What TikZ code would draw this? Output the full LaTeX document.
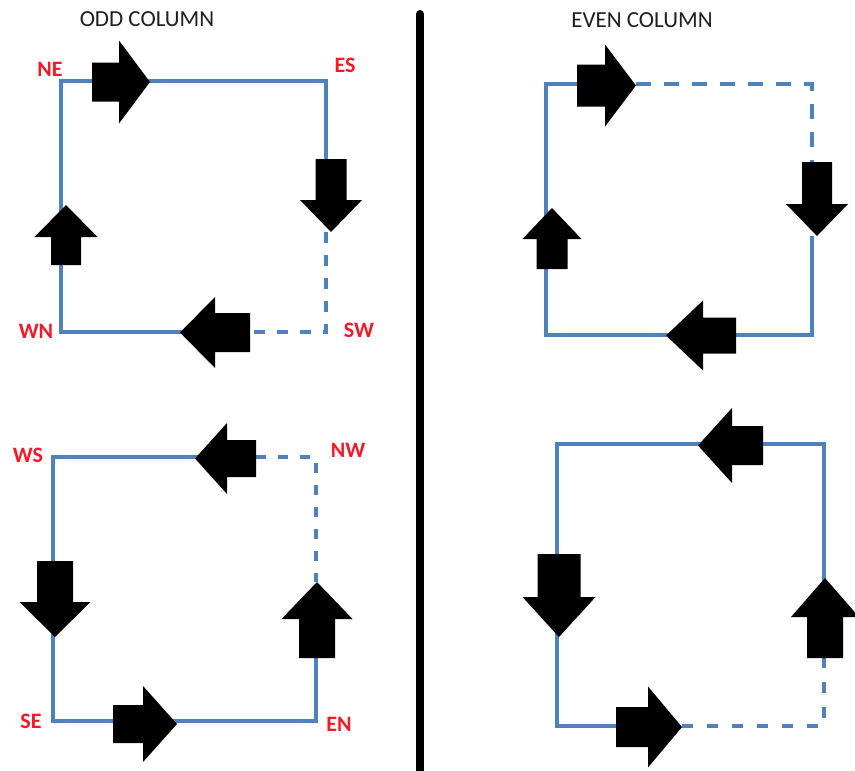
\documentclass[tikz,border=0pt]{standalone}
\usepackage{fontspec}
\setmainfont{Carlito}
\definecolor{edgeblue}{RGB}{79,129,189}
\definecolor{lblred}{RGB}{245,25,40}
\definecolor{titlegray}{RGB}{30,30,30}
\newcommand\harr[6]{\fill[blockarrow] (#1,#2) -- (#3,{#2-#4}) -- (#3,{#2-#6}) -- (#5,{#2-#6}) -- (#5,{#2+#6}) -- (#3,{#2+#6}) -- (#3,{#2+#4}) -- cycle;}
\newcommand\varr[6]{\fill[blockarrow] (#1,#2) -- ({#1-#4},#3) -- ({#1-#6},#3) -- ({#1-#6},#5) -- ({#1+#6},#5) -- ({#1+#6},#3) -- ({#1+#4},#3) -- cycle;}
\tikzset{
  blockarrow/.style={fill=black},
  edge/.style={draw=edgeblue, line join=miter, line cap=butt},
  lbl/.style={text=lblred, font=\fontsize{22}{22}\selectfont\bfseries, inner sep=0pt},
  ttl/.style={text=titlegray, font=\fontsize{23}{23}\selectfont, inner sep=0pt},
}
\begin{document}
\begin{tikzpicture}[x=1pt,y=-1pt]
\useasboundingbox (0,0) rectangle (855,771);
% divider
\coordinate (divtop) at (420,14);
\coordinate (divbot) at (420,780);
\draw[black, line width=8pt, line cap=round] (divtop) -- (divbot);
% titles
\node[ttl] (oddt) at (147,19) {ODD COLUMN};
\node[ttl] (event) at (642,20) {EVEN COLUMN};

% ---------- top-left square ----------
\coordinate (tlNE) at (61,81);
\coordinate (tlES) at (326,81);
\coordinate (tlSW) at (326,332);
\coordinate (tlWN) at (61,332);
\coordinate (tlA) at (326,159);
\coordinate (tlB) at (326,232);
\coordinate (tlC) at (250,332);
\coordinate (tlD) at (200,332);
\draw[edge, line width=3.6pt] (tlA) -- (tlES) -- (tlNE) -- (tlWN) -- (tlD);
\draw[edge, line width=3.6pt, dash pattern=on 11pt off 12pt] (tlB) -- (tlSW) -- (tlC);
\harr{150}{82}{119}{41.5}{92}{19.5}
\varr{331}{232}{200}{31}{159}{15.5}
\varr{66}{205}{237}{31.5}{265}{15}
\harr{180}{332.5}{215}{35.5}{250}{19.5}
\node[lbl] (NE) at (50,69) {NE};
\node[lbl] (ES) at (345,65) {ES};
\node[lbl] (WN) at (36,331) {WN};
\node[lbl] (SW) at (359,330) {SW};

% ---------- top-right square ----------
\coordinate (trA) at (546,84);
\coordinate (trB) at (812,84);
\coordinate (trC) at (812,335);
\coordinate (trD) at (546,335);
\coordinate (trE) at (590,84);
\coordinate (trF) at (636,84);
\coordinate (trG) at (812,162);
\coordinate (trH) at (812,236);
\draw[edge, line width=4.4pt] (trE) -- (trA) -- (trD) -- (trC) -- (trH);
\draw[edge, line width=4.4pt, dash pattern=on 15pt off 13pt] (trF) -- (trB) -- (trG);
\harr{636}{85.5}{605}{41}{577}{21}
\varr{817}{236}{204}{31}{162}{15}
\varr{552}{208}{239}{29.5}{269}{15.5}
\harr{666}{335.5}{703}{35}{736}{18}

% ---------- bottom-left square ----------
\coordinate (blWS) at (53,457);
\coordinate (blNW) at (316,457);
\coordinate (blEN) at (316,721);
\coordinate (blSE) at (53,721);
\coordinate (blA) at (210,457);
\coordinate (blB) at (256,457);
\coordinate (blC) at (316,582);
\coordinate (blD) at (316,658);
\draw[edge, line width=3.1pt] (blA) -- (blWS) -- (blSE) -- (blEN) -- (blD);
\draw[edge, line width=3.1pt, dash pattern=on 10pt off 12pt] (blB) -- (blNW) -- (blC);
\harr{195}{458.5}{227}{35.5}{256}{18.5}
\varr{317}{582}{619}{35.5}{658}{18}
\harr{177}{724}{143}{38}{113}{19}
\varr{55}{637}{602}{35.5}{561}{18}
\node[lbl] (WS) at (28,455) {WS};
\node[lbl] (NW) at (348,450) {NW};
\node[lbl] (SE) at (31,721) {SE};
\node[lbl] (EN) at (339,724) {EN};

% ---------- bottom-right square ----------
\coordinate (brA) at (557,444);
\coordinate (brB) at (824,444);
\coordinate (brC) at (824,726);
\coordinate (brD) at (557,726);
\coordinate (brE) at (824,590);
\coordinate (brF) at (824,658);
\coordinate (brG) at (630,726);
\coordinate (brH) at (682,726);
\draw[edge, line width=3.1pt] (brE) -- (brB) -- (brA) -- (brD) -- (brG);
\draw[edge, line width=3.1pt, dash pattern=on 11pt off 14pt] (brH) -- (brC) -- (brF);
\harr{698}{445.5}{732}{37.5}{763}{19.5}
\varr{825}{578}{617}{34}{658}{18}
\harr{682}{727}{648}{40.5}{616}{20}
\varr{559}{637}{597}{36.5}{554}{21.5}
\end{tikzpicture}
\end{document}
